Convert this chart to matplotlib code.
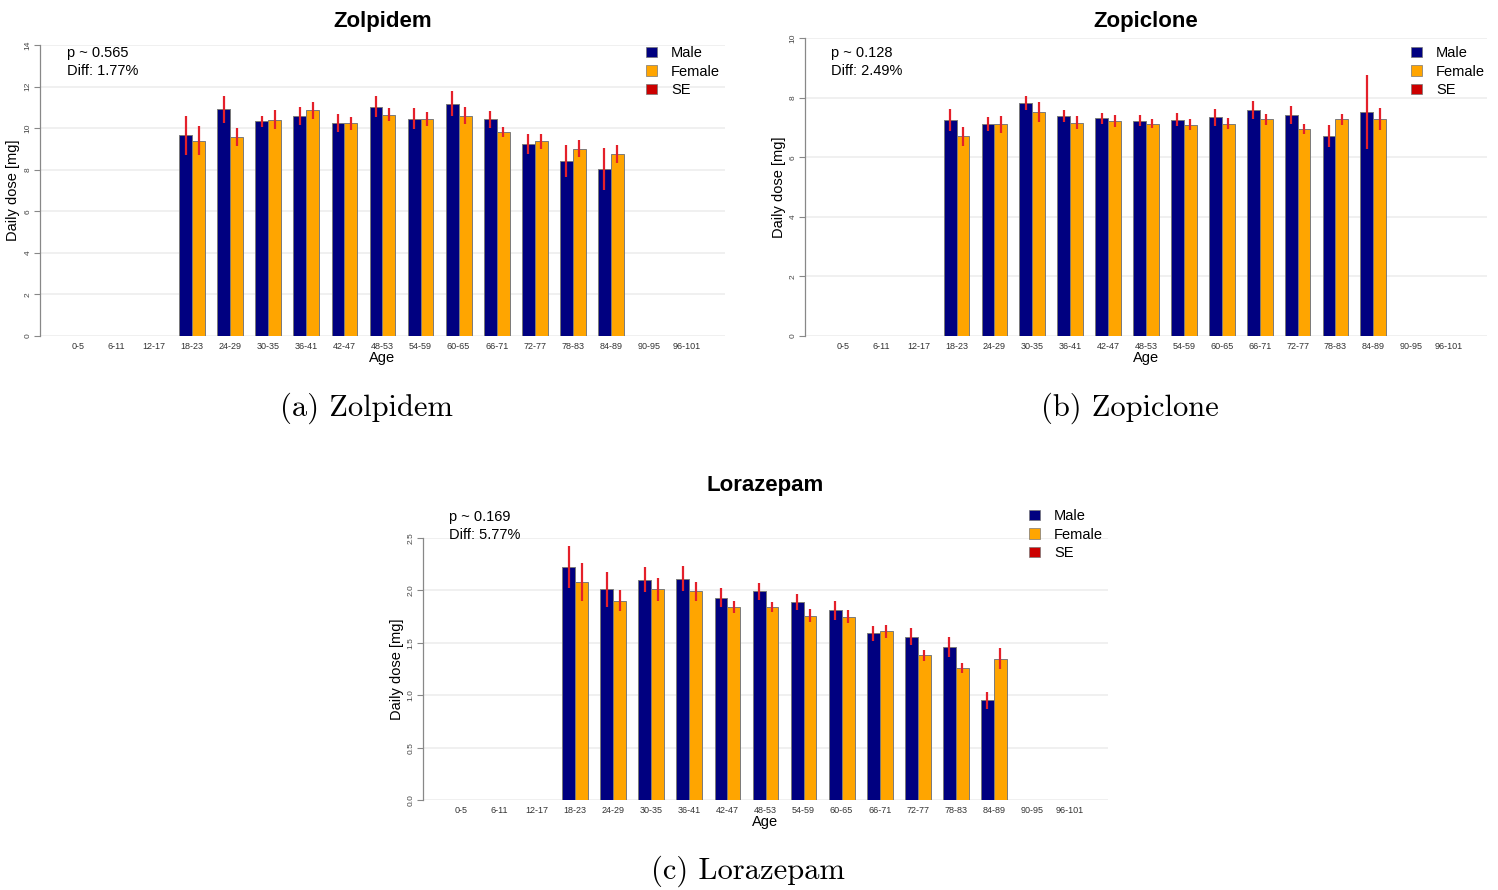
import numpy as np
import matplotlib
matplotlib.use("Agg")
import matplotlib.pyplot as plt
from matplotlib.patches import Patch

plt.rcParams['font.family'] = ['Liberation Sans', 'DejaVu Sans']

nan = np.nan
ages = ['0-5', '6-11', '12-17', '18-23', '24-29', '30-35', '36-41', '42-47', '48-53',
        '54-59', '60-65', '66-71', '72-77', '78-83', '84-89', '90-95', '96-101']

# --------- Zolpidem
zol_male = [nan, nan, nan, 9.65, 10.90, 10.32, 10.59, 10.23, 11.04, 10.46, 11.18, 10.42, 9.23, 8.42, 8.03, nan, nan]
zol_female = [nan, nan, nan, 9.40, 9.56, 10.41, 10.86, 10.23, 10.65, 10.44, 10.60, 9.83, 9.37, 9.02, 8.75, nan, nan]
zol_male_se = [nan, nan, nan, 0.92, 0.66, 0.26, 0.44, 0.43, 0.50, 0.52, 0.60, 0.42, 0.49, 0.77, 1.00, nan, nan]
zol_female_se = [nan, nan, nan, 0.70, 0.44, 0.46, 0.42, 0.33, 0.32, 0.32, 0.40, 0.24, 0.37, 0.41, 0.42, nan, nan]

# --------- Zopiclone
zop_male = [nan, nan, nan, 7.25, 7.12, 7.81, 7.39, 7.30, 7.23, 7.26, 7.34, 7.59, 7.41, 6.72, 7.51, nan, nan]
zop_female = [nan, nan, nan, 6.70, 7.10, 7.51, 7.16, 7.21, 7.13, 7.09, 7.13, 7.27, 6.95, 7.27, 7.27, nan, nan]
zop_male_se = [nan, nan, nan, 0.38, 0.24, 0.24, 0.20, 0.19, 0.17, 0.22, 0.28, 0.31, 0.30, 0.37, 1.25, nan, nan]
zop_female_se = [nan, nan, nan, 0.31, 0.28, 0.33, 0.21, 0.19, 0.16, 0.18, 0.17, 0.19, 0.17, 0.19, 0.37, nan, nan]

# --------- Lorazepam
lor_male = [nan, nan, nan, 2.22, 2.01, 2.10, 2.11, 1.93, 1.99, 1.89, 1.81, 1.59, 1.56, 1.46, 0.95, nan, nan]
lor_female = [nan, nan, nan, 2.08, 1.90, 2.01, 1.99, 1.84, 1.84, 1.76, 1.75, 1.61, 1.38, 1.26, 1.35, nan, nan]
lor_male_se = [nan, nan, nan, 0.20, 0.17, 0.12, 0.12, 0.09, 0.08, 0.08, 0.09, 0.07, 0.08, 0.10, 0.08, nan, nan]
lor_female_se = [nan, nan, nan, 0.18, 0.10, 0.11, 0.09, 0.06, 0.05, 0.06, 0.06, 0.06, 0.05, 0.05, 0.10, nan, nan]

W, H = 1498, 890
MALE, FEMALE, SE = '#000080', '#FFA500', '#E4202A'

fig = plt.figure(figsize=(W / 100, H / 100), dpi=100)


def rect(x0, y_top, x1, y_bottom):
    return [x0 / W, 1 - y_bottom / H, (x1 - x0) / W, (y_bottom - y_top) / H]


def fpos(x, y):
    return x / W, 1 - y / H


def panel(box, title, male, female, male_se, female_se, ymax, ystep,
          ptxt, diff, txt_xy, leg_xy, title_y):
    ax = fig.add_axes(rect(*box))
    x = np.arange(len(ages))
    bw = 0.34
    male = np.array(male); female = np.array(female)
    ax.bar(x - bw / 2, male, bw, color=MALE, edgecolor='#7a7a7a', linewidth=0.7, zorder=2)
    ax.bar(x + bw / 2, female, bw, color=FEMALE, edgecolor='#7a7a7a', linewidth=0.7, zorder=2)
    ax.vlines(x - bw / 2, male - np.array(male_se), male + np.array(male_se), color=SE, lw=1.6, zorder=3)
    ax.vlines(x + bw / 2, female - np.array(female_se), female + np.array(female_se), color=SE, lw=1.6, zorder=3)

    yt = np.arange(0, ymax + ystep / 2, ystep)
    for v in yt:
        ax.axhline(v, color='#f0f0f0', lw=1.4, zorder=0)
    ax.set_xlim(-1, 17)
    ax.set_ylim(0, ymax)
    ax.set_yticks(yt)
    if ystep < 1:
        ax.set_yticklabels([f'{v:.1f}' for v in yt])
    else:
        ax.set_yticklabels([f'{v:g}' for v in yt])
    ax.tick_params(axis='y', labelsize=6, labelcolor='#444444', color='#888888',
                   length=4, width=0.8, pad=2, labelrotation=90)
    for lab in ax.get_yticklabels():
        lab.set_va('center')
    ax.set_xticks(x)
    ax.set_xticklabels(ages)
    ax.tick_params(axis='x', labelsize=6.5, labelcolor='#333333', length=0, pad=4)
    for s in ['top', 'right', 'bottom']:
        ax.spines[s].set_visible(False)
    ax.spines['left'].set_color('#888888')
    ax.spines['left'].set_linewidth(0.9)
    ax.set_xlabel('Age', fontsize=10.5, labelpad=0)
    ax.set_ylabel('Daily dose [mg]', fontsize=10.5, labelpad=3)

    cx = (box[0] + box[2]) / 2
    fig.text(*fpos(cx, title_y), title, ha='center', va='center', fontsize=16, fontweight='bold')
    fig.text(*fpos(txt_xy[0], txt_xy[1]), f'p ~ {ptxt}', fontsize=10.5, va='center')
    fig.text(*fpos(txt_xy[0], txt_xy[1] + 18), f'Diff: {diff}', fontsize=10.5, va='center')

    handles = [Patch(facecolor=MALE, edgecolor='#777777', lw=0.5, label='Male'),
               Patch(facecolor=FEMALE, edgecolor='#777777', lw=0.5, label='Female'),
               Patch(facecolor='#CC0000', edgecolor='#777777', lw=0.5, label='SE')]
    ax.legend(handles=handles, loc='upper left', bbox_to_anchor=fpos(*leg_xy),
              bbox_transform=fig.transFigure, frameon=False, fontsize=10.5,
              handlelength=0.72, handleheight=0.72, handletextpad=1.0,
              labelspacing=0.32, borderpad=0, borderaxespad=0)
    return ax


panel((40, 45, 725, 336), 'Zolpidem', zol_male, zol_female, zol_male_se, zol_female_se,
      14, 2, '0.565', '1.77%', (67, 53), (646, 46), 21)
panel((805, 38, 1487, 336), 'Zopiclone', zop_male, zop_female, zop_male_se, zop_female_se,
      10, 2, '0.128', '2.49%', (831, 53), (1411, 46), 21)
panel((423, 538, 1108, 800), 'Lorazepam', lor_male, lor_female, lor_male_se, lor_female_se,
      2.5, 0.5, '0.169', '5.77%', (449, 517), (1029, 509), 485)

cap = dict(ha='center', va='center', fontsize=22, family='cmr10')
fig.text(*fpos(366, 408), '(a) Zolpidem', **cap)
fig.text(*fpos(1130, 408), '(b) Zopiclone', **cap)
fig.text(*fpos(748, 871), '(c) Lorazepam', **cap)

fig.savefig('out.png', dpi=100)
